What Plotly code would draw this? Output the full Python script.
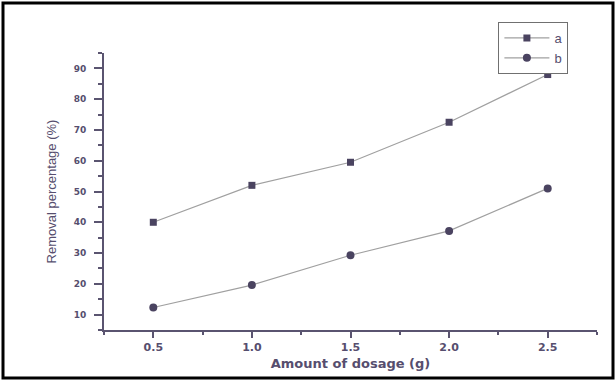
import plotly.graph_objects as go

dosage = [0.5, 1.0, 1.5, 2.0, 2.5]
series_a = [40.0, 52.0, 59.5, 72.5, 88.0]
series_b = [12.3, 19.6, 29.3, 37.2, 51.0]
x_ticks = [0.5, 1.0, 1.5, 2.0, 2.5]
x_labels = ["0.5", "1.0", "1.5", "2.0", "2.5"]
y_ticks = [10, 20, 30, 40, 50, 60, 70, 80, 90]

txt = "#564e6e"
axc = "#5a5470"
mk = "#4a4360"
ln = "#a0a0a0"

fig = go.Figure()
fig.add_trace(go.Scatter(x=dosage, y=series_a, name="a", mode="lines+markers",
                         line=dict(color=ln, width=1.2),
                         marker=dict(symbol="square", size=7, color=mk)))
fig.add_trace(go.Scatter(x=dosage, y=series_b, name="b", mode="lines+markers",
                         line=dict(color=ln, width=1.2),
                         marker=dict(symbol="circle", size=8, color=mk)))

fig.update_layout(
    width=616, height=381,
    margin=dict(l=104, r=19, t=53, b=51),
    paper_bgcolor="white", plot_bgcolor="white",
    font=dict(family="Liberation Sans, Arial, sans-serif", color=txt),
    showlegend=True,
    legend=dict(x=0.800, y=1.112, xanchor="left", yanchor="top",
                bordercolor="#707070", borderwidth=1, bgcolor="white",
                font=dict(size=13, color=txt), tracegroupgap=0,
                itemwidth=45),
    xaxis=dict(range=[0.25, 2.75], tickvals=x_ticks, ticktext=x_labels,
               showgrid=False, zeroline=False, showline=True, linecolor=axc, linewidth=2,
               ticks="outside", ticklen=6, tickwidth=1.5, tickcolor=axc,
               minor=dict(dtick=0.25, ticks="outside", ticklen=3, tickcolor=axc, showgrid=False),
               tickfont=dict(family="DejaVu Sans", size=11, color=txt, weight="bold"),
               title=dict(text="Amount of dosage (g)",
                          font=dict(family="DejaVu Sans", size=13, color=txt, weight="bold"),
                          standoff=6)),
    yaxis=dict(range=[5, 95], tickvals=y_ticks,
               showgrid=False, zeroline=False, showline=True, linecolor=axc, linewidth=2,
               ticks="outside", ticklen=8, tickwidth=1.5, tickcolor=axc,
               minor=dict(dtick=5, ticks="outside", ticklen=4, tickcolor=axc, showgrid=False),
               ticklabelstandoff=6,
               tickfont=dict(family="DejaVu Sans", size=9, color=txt, weight="bold"),
               title=dict(text="Removal percentage (%)", font=dict(size=13, color=txt), standoff=14)),
)

fig.add_shape(type="rect", xref="paper", yref="paper",
              x0=(3 - 104) / 493, x1=(613 - 104) / 493,
              y0=1 - (378 - 53) / 277, y1=1 + (53 - 3) / 277,
              line=dict(color="black", width=3), fillcolor="rgba(0,0,0,0)", layer="above")

fig.write_html("out.html")
